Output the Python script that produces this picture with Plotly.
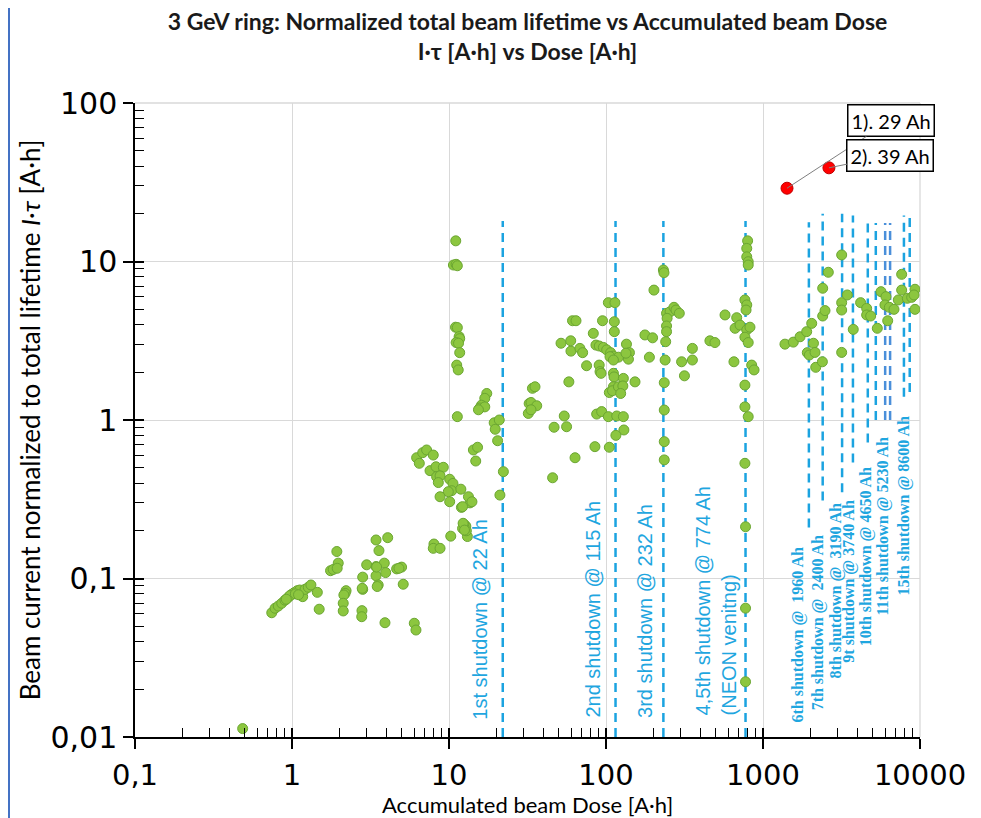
import math
import plotly.graph_objects as go

# ---------------- data ----------------
dose = [
    0.485,
    0.743, 0.78, 0.818, 0.86, 0.902, 0.946, 0.995, 1.03, 1.08, 1.12, 1.17, 1.21, 1.27, 1.32, 1.45, 1.49,
    0.97, 1.05, 1.1, 0.92,
    1.93, 1.76, 1.83, 1.97, 1.94,
    2.21, 2.18, 2.14, 2.12, 2.12,
    2.82, 2.82, 2.79, 2.78, 2.99, 2.8,
    3.43, 4.07, 3.58, 3.43, 3.43, 3.54, 3.87, 3.95, 3.91, 3.49, 3.46,
    4.64, 4.99, 4.8, 5.11, 6.01, 6.16,
    8.02, 7.94, 8.77, 10.26,
    12.0, 13.6, 10.1, 12.2, 12.8, 13.1, 12.45, 12.9, 12.3, 12.55,
    6.22, 6.47, 6.8, 7.2, 7.94, 7.57, 8.26, 9.2, 8.34, 8.77, 8.55, 10.1, 10.6, 10.4, 9.9, 11.9, 8.77,
    13.3, 14.0, 12.2, 14.3, 15.2, 14.8,
    11.04, 10.67, 11.1, 11.3, 11.0, 11.3, 11.6, 11.7, 11.1, 11.5, 11.7, 11.2, 11.45, 11.3,
    17.4, 16.9, 16.1, 15.7, 16.9, 15.4,
    19.4, 19.7, 20.9, 20.4, 22.2, 21.1,
    34.0, 35.3, 32.4, 33.3, 36.2, 32.0, 33.3, 46.7, 54.2, 56.1, 45.7, 63.5,
    85, 105, 87.2, 93.8, 103.5, 117, 129, 130, 115.6,
    111.5, 112.5, 129, 111.5, 105, 110, 120, 128, 124, 153,
    90.5, 91.6, 93, 75.2, 58,
    51.7, 59.6, 59.8, 68.2, 71, 61.2, 64.4, 83, 95,
    86.3, 90.6, 96.2, 101, 107, 111.5, 106, 120, 111.5,
    135, 141, 139, 134,
    103.5, 114, 113, 113,
    177, 198, 189, 202, 232, 234,
    243, 256, 271, 279, 293, 245, 243, 243, 240, 238, 235, 235, 235, 235,
    303, 355, 355, 316, 459, 494, 573,
    680, 664, 714, 788, 826, 653, 767, 805, 847, 877,
    767, 788, 780, 798, 788, 788, 805, 805,
    767, 767, 805, 767, 774, 774, 774,
    1380, 1560, 1722, 1898, 2043, 1915, 1972, 2096, 2145, 2167, 2389, 2400, 2483, 2400, 2606,
    3170, 3170, 3170, 3443, 3170, 3757, 4185, 4573, 4573, 4850, 5346, 5645, 6070, 5980, 6380,
    6830, 6227, 7275, 7640, 7640, 8300, 8850, 9290, 9160, 9290,
]
itau = [
    0.0113,
    0.0608, 0.0649, 0.067, 0.0698, 0.073, 0.076, 0.0794, 0.0813, 0.0838, 0.0846, 0.0768, 0.0854, 0.088, 0.091, 0.0818, 0.064,
    0.078, 0.08, 0.079, 0.074,
    0.148, 0.112, 0.114, 0.125, 0.116,
    0.0838, 0.0806, 0.0787, 0.0698, 0.0624,
    0.102, 0.0854, 0.0627, 0.0574, 0.122, 0.0867,
    0.175, 0.181, 0.15, 0.119, 0.104, 0.091, 0.125, 0.109, 0.0526, 0.089, 0.118,
    0.115, 0.118, 0.116, 0.092, 0.0522, 0.0473,
    0.165, 0.155, 0.155, 0.185,
    0.281, 0.30, 0.305, 0.207, 0.214, 0.184, 0.22, 0.2, 0.223, 0.202,
    0.578, 0.533, 0.622, 0.647, 0.601, 0.479, 0.507, 0.503, 0.439, 0.444, 0.403, 0.423, 0.398, 0.358, 0.353, 0.366, 0.328,
    0.328, 0.305, 0.284, 0.647, 0.673, 0.551,
    13.5, 9.5, 9.6, 9.4, 3.85, 3.83, 3.36, 3.26, 3.08, 3.05, 2.66, 2.22, 2.07, 1.05,
    1.47, 1.37, 1.24, 1.19, 1.21, 1.16,
    0.96, 0.874, 1.0, 0.74, 0.472, 0.336,
    1.585, 1.62, 1.27, 1.29, 1.23, 1.10, 1.16, 0.9, 1.06, 0.907, 0.432, 0.578,
    0.679, 0.673, 1.09, 1.13, 1.05, 1.06, 1.05, 0.865, 0.8,
    1.97, 1.87, 1.83, 1.62, 1.49, 1.53, 1.62, 1.64, 1.47, 1.74,
    2.22, 2.02, 1.97, 2.2, 1.74,
    3.05, 3.16, 2.72, 2.83, 2.66, 4.23, 4.23, 3.52, 4.23,
    2.97, 2.93, 2.87, 2.77, 2.66, 2.53, 2.51, 2.49, 2.39,
    3.01, 2.66, 2.42, 2.64,
    5.5, 5.5, 4.17, 3.61,
    3.44, 3.3, 2.49, 6.6, 8.84, 8.5,
    4.71, 4.82, 5.14, 4.94, 4.71, 4.38, 3.92, 3.61, 3.12, 2.39, 1.72, 1.156, 0.73, 0.56,
    2.33, 2.39, 2.83, 1.9, 3.16, 3.08, 4.6,
    4.42, 3.79, 3.97, 3.7, 3.85, 2.33, 3.33, 3.08, 2.22, 2.07,
    5.72, 5.32, 4.94, 13.5, 12.1, 10.7, 9.97, 9.5,
    1.66, 1.21, 1.05, 0.533, 0.212, 0.065, 0.0223,
    3.01, 3.1, 3.35, 3.61, 4.07, 2.66, 2.57, 3.05, 2.67, 2.15, 2.33, 4.53, 4.9, 6.78, 8.55,
    11.0, 5.5, 4.94, 6.15, 2.67, 3.73, 5.5, 5.06, 4.6, 4.53, 3.79, 6.45, 6.0, 5.32, 5.14,
    4.99, 4.23, 5.72, 8.3, 6.6, 5.86, 5.94, 6.68, 6.15, 4.99,
]

# highlighted (red) points
red_dose = [1422, 2630]
red_itau = [29, 39]
red_labels = ["1). 29 Ah", "2). 39 Ah"]

# shutdowns
shut_dose = [22, 115, 232, 774, 1960, 2400, 3190, 3740, 4650, 5230, 6000, 6450, 7900, 8600]
shut_top = [18, 18, 18, 18, 17.7, 20, 20, 19.5, 17.7, 17.5, 17.5, 17.5, 19.5, 20]
shut_bottom = [0.01, 0.01, 0.01, 0.01, 0.21, 0.31, 0.35, 0.54, 0.72, 1.0, 1.0, 1.0, 1.4, 1.5]

big_labels = ["1st shutdown @ 22 Ah", "2nd shutdown @ 115 Ah", "3rd shutdown @ 232 Ah",
              "4,5th shutdown @ 774 Ah<br>(NEON venitng)"]
big_label_x = [15.7, 81.5, 177, 502]
big_label_y = [0.01245, 0.0128, 0.0128, 0.0132]

small_labels = ["6th shutdown @  1960 Ah", "7th shutdown @  2400 Ah", "8th shutdown @  3190 Ah",
                "9t shutdown @ 3740 Ah", "10th shutdown @ 4650 Ah", "11th shutdown @ 5230 Ah",
                "15th shutdown @ 8600 Ah"]
small_label_x = [1671, 2239, 2958, 3532, 4529, 5808, 7907]
small_label_y = [0.0119, 0.0144, 0.0229, 0.0284, 0.0365, 0.0571, 0.0764]

x_tickvals = [0.1, 1, 10, 100, 1000, 10000]
x_ticktext = ["0,1", "1", "10", "100", "1000", "10000"]
y_tickvals = [0.01, 0.1, 1, 10, 100]
y_ticktext = ["0,01", "0,1", "1", "10", "100"]

# ---------------- figure ----------------
LINE_BLUE = "#1BA3E0"
TEXT_BLUE = "#1FA6DF"
W, H = 973, 810
ML, MR, MT, MB = 127, 61, 95, 81
PW, PH = W - ML - MR, H - MT - MB

fig = go.Figure()

for i, d in enumerate(shut_dose):
    col = "#4A8FDA" if d in (6000, 6450) else LINE_BLUE
    fig.add_trace(go.Scatter(
        x=[d, d], y=[shut_bottom[i], shut_top[i]], mode="lines",
        line=dict(color=col, width=2.5, dash="9px,6px"),
        hoverinfo="skip", showlegend=False))

fig.add_trace(go.Scatter(
    x=dose, y=itau, mode="markers",
    marker=dict(size=10, color="#8CC63F", line=dict(color="#6BA632", width=1)),
    showlegend=False))

fig.add_trace(go.Scatter(
    x=red_dose, y=red_itau, mode="markers",
    marker=dict(size=12, color="#FF0000", line=dict(color="#C00000", width=1)),
    showlegend=False))

# dummy trace for overlay axes (inside part of major ticks)
fig.add_trace(go.Scatter(x=[1], y=[1], xaxis="x2", yaxis="y2", mode="markers",
                         marker=dict(opacity=0), hoverinfo="skip", showlegend=False))

minor_vals_x = [k * 10 ** n for n in range(-1, 4) for k in range(2, 10)]
minor_vals_y = [k * 10 ** n for n in range(-2, 2) for k in range(2, 10)]

fig.update_layout(
    width=W, height=H,
    margin=dict(l=ML, r=MR, t=MT, b=MB),
    paper_bgcolor="white", plot_bgcolor="white",
    title=dict(text="<b>3 GeV ring: Normalized total beam lifetime vs Accumulated beam Dose<br>I·τ [A·h] vs Dose [A·h]</b>",
               x=0.5, xref="paper", xanchor="center", y=1 - 22 / H, yref="container", yanchor="top",
               font=dict(family="Lato", size=23, color="#1A1A1A")),
    xaxis=dict(type="log", range=[-1, 4], tickmode="array", tickvals=x_tickvals, ticktext=x_ticktext,
               tickfont=dict(family="DejaVu Sans", size=29, color="black"), ticklabelstandoff=1,
               showgrid=True, gridcolor="#D9D9D9", gridwidth=1.3,
               showline=True, linecolor="black", linewidth=1.5,
               ticks="outside", ticklen=10, tickwidth=1.5, tickcolor="black",
               minor=dict(tickmode="array", tickvals=minor_vals_x, ticks="inside", ticklen=9,
                          tickwidth=1.3, tickcolor="black", showgrid=False),
               zeroline=False),
    yaxis=dict(type="log", range=[-2, 2], tickmode="array", tickvals=y_tickvals, ticktext=y_ticktext,
               tickfont=dict(family="DejaVu Sans", size=30, color="black"),
               showgrid=True, gridcolor="#D9D9D9", gridwidth=1.3,
               showline=True, linecolor="black", linewidth=1.5,
               ticks="outside", ticklen=10, tickwidth=1.5, tickcolor="black",
               minor=dict(tickmode="array", tickvals=minor_vals_y, ticks="inside", ticklen=9,
                          tickwidth=1.3, tickcolor="black", showgrid=False),
               title=dict(text="Beam current normalized to total lifetime <i>I·τ</i> [A·h]",
                          font=dict(family="Lato", size=26, color="black"), standoff=2),
               zeroline=False),
    xaxis2=dict(type="log", range=[-1, 4], overlaying="x", anchor="y", side="bottom",
                tickmode="array", tickvals=x_tickvals, showticklabels=False, showgrid=False,
                ticks="inside", ticklen=9, tickwidth=1.5, tickcolor="black", showline=False, zeroline=False),
    yaxis2=dict(type="log", range=[-2, 2], overlaying="y", anchor="x", side="left",
                tickmode="array", tickvals=y_tickvals, showticklabels=False, showgrid=False,
                ticks="inside", ticklen=9, tickwidth=1.5, tickcolor="black", showline=False, zeroline=False),
    showlegend=False,
)

annotations = []
# x axis title (placed tight under the tick labels, as in the reference)
annotations.append(dict(text="Accumulated beam Dose [A·h]", xref="paper", yref="paper",
                        x=0.5, y=(PH - (796 - MT)) / PH, xanchor="center", yanchor="middle",
                        showarrow=False, font=dict(family="Lato", size=22, color="black")))
for t, xv, yv in zip(big_labels, big_label_x, big_label_y):
    annotations.append(dict(text=t, x=math.log10(xv), y=math.log10(yv), xref="x", yref="y",
                            textangle=-90, xanchor="center", yanchor="bottom", align="left",
                            showarrow=False, font=dict(family="Liberation Sans", size=20, color=TEXT_BLUE)))
for t, xv, yv in zip(small_labels, small_label_x, small_label_y):
    annotations.append(dict(text="<b>" + t.replace("  ", "&nbsp; ") + "</b>", x=math.log10(xv), y=math.log10(yv),
                            xref="x", yref="y", textangle=-90, xanchor="center", yanchor="bottom",
                            showarrow=False, font=dict(family="Liberation Serif", size=16, color=TEXT_BLUE)))

box_offsets = [(103.5, -67.5), (61.5, -12.5)]
for t, xv, yv, (axp, ayp) in zip(red_labels, red_dose, red_itau, box_offsets):
    annotations.append(dict(text=t, x=math.log10(xv), y=math.log10(yv), xref="x", yref="y",
                            ax=axp, ay=ayp, showarrow=True, arrowhead=0, arrowwidth=1, arrowcolor="#7F7F7F",
                            bordercolor="black", borderwidth=1.5, borderpad=3, bgcolor="white",
                            font=dict(family="Lato", size=20, color="black")))
fig.update_layout(annotations=annotations)

# frame accents (top/right edge grid lines and left blue border)
fig.add_shape(type="line", xref="paper", yref="paper", x0=0, x1=1, y0=1, y1=1,
              line=dict(color="#D9D9D9", width=1.3), layer="below")
fig.add_shape(type="line", xref="paper", yref="paper", x0=1, x1=1, y0=0, y1=1,
              line=dict(color="#D9D9D9", width=1.3), layer="below")
fig.add_shape(type="line", xref="paper", yref="paper", x0=(1 - ML) / PW, x1=(1 - ML) / PW,
              y0=-MB / PH, y1=(PH + MT) / PH,
              line=dict(color="#4472C4", width=2))

fig.write_html("out.html")
